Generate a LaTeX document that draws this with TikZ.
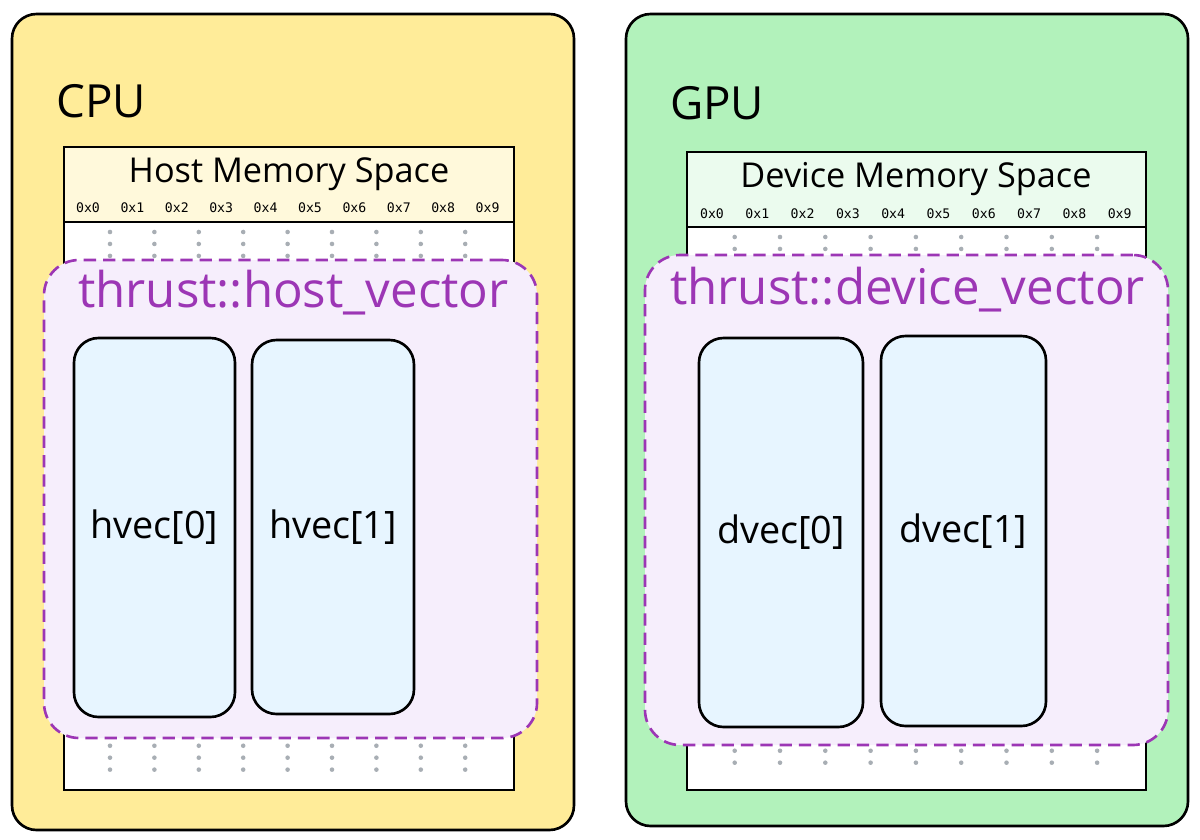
\documentclass[tikz,border=0pt]{standalone}
\usepackage{fontspec}
\setmainfont{Open Sans}
\setmonofont{DejaVu Sans Mono}
\definecolor{CpuYellow}{HTML}{FFEC99}
\definecolor{GpuGreen}{HTML}{B2F2BB}
\definecolor{HostHead}{HTML}{FFF9DB}
\definecolor{DevHead}{HTML}{EBFBEE}
\definecolor{VecViolet}{HTML}{9C36B5}
\definecolor{VecFill}{HTML}{F6EEFC}
\definecolor{ElemBlue}{HTML}{E7F5FF}
\definecolor{DotGray}{HTML}{A8AEB4}
\usetikzlibrary{fit}
\tikzset{
  chipbox/.style={draw=black, line width=1.5pt, rounded corners=14pt, inner sep=0pt},
  chipLabel/.style={font=\fontsize{26}{30}\selectfont, anchor=west},
  memhead/.style={draw=black, line width=1.5pt, inner sep=0pt},
  membody/.style={draw=black, line width=1.5pt, fill=white, inner sep=0pt},
  memTitle/.style={font=\fontsize{19.5}{23}\selectfont},
  addrLabel/.style={font=\ttfamily\fontsize{7.5}{9}\selectfont},
  dotcol/.style={draw=DotGray, line width=2.6pt, line cap=round, dash pattern=on 0pt off 6.8pt},
  vecbox/.style={draw=VecViolet, fill=VecFill, line width=1.5pt, dash pattern=on 7pt off 4pt, rounded corners=20pt, inner sep=0pt},
  vecLabel/.style={text=VecViolet, font=\fontsize{28}{32}\selectfont, anchor=west},
  elembox/.style={draw=black, fill=ElemBlue, line width=1.5pt, rounded corners=14pt, inner sep=0pt},
  elemLabel/.style={font=\fontsize{21.5}{25}\selectfont}
}
\begin{document}
\begin{tikzpicture}[x=0.02cm,y=-0.02cm]
  \useasboundingbox (0,0) rectangle (1200,839);

  % CPU side
  \node[chipbox, fill=CpuYellow, fit={(12,14) (574,830)}] (cpu) {};
  \node[chipLabel] (cpuLabel) at (50,101) {CPU};

  \node[memhead, fill=HostHead, fit={(64,147) (514,222)}] (hostHead) {};
  \node[membody, fit={(64,222) (514,790)}] (hostBody) {};
  \node[memTitle] (hostTitle) at (289,174) {Host Memory Space};
  \foreach \i in {0,...,9}
    \node[addrLabel] (haddr\i) at (88+44.4*\i,208) {0x\i};
  \foreach \i in {1,...,9}
    \draw[dotcol] (65.6+44.4*\i,232) -- (65.6+44.4*\i,772);

  \node[vecbox, fit={(44,260) (537,738)}] (hostVec) {};
  \node[vecLabel] (hostVecLabel) at (72,293) {thrust::host\_vector};

  \node[elembox, fit={(74,338) (235,717)}] (hvec0) {};
  \node[elembox, fit={(252,340) (414,714)}] (hvec1) {};
  \node[elemLabel] at (hvec0) {hvec[0]};
  \node[elemLabel] at (hvec1) {hvec[1]};

  % GPU side
  \node[chipbox, fill=GpuGreen, fit={(626,14) (1188,826)}] (gpu) {};
  \node[chipLabel] (gpuLabel) at (664,103) {GPU};

  \node[memhead, fill=DevHead, fit={(687,152) (1146,227)}] (devHead) {};
  \node[membody, fit={(687,227) (1146,790)}] (devBody) {};
  \node[memTitle] (devTitle) at (916,179) {Device Memory Space};
  \foreach \i in {0,...,9}
    \node[addrLabel] (daddr\i) at (712+45.3*\i,214) {0x\i};
  \foreach \i in {1,...,9}
    \draw[dotcol] (689.4+45.3*\i,237) -- (689.4+45.3*\i,772);

  \node[vecbox, fit={(645,255) (1168,745)}] (devVec) {};
  \node[vecLabel] (devVecLabel) at (664,290) {thrust::device\_vector};

  \node[elembox, fit={(699,338) (863,727)}] (dvec0) {};
  \node[elembox, fit={(881,336) (1046,726)}] (dvec1) {};
  \node[elemLabel] at (dvec0) {dvec[0]};
  \node[elemLabel] at (dvec1) {dvec[1]};
\end{tikzpicture}
\end{document}
